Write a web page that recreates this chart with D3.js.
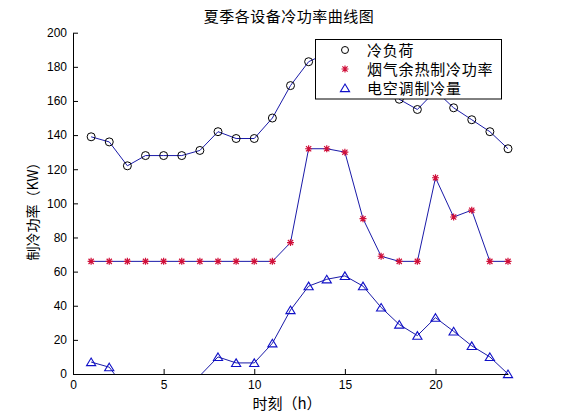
<!DOCTYPE html>
<html>
<head>
<meta charset="utf-8">
<script src="https://cdn.jsdelivr.net/npm/d3@7"></script>
<style>
  body { margin: 0; background: #fff; }
  text { font-family: "Liberation Sans", Arial, sans-serif; }
  .cjk { font-family: "Noto Sans CJK SC", sans-serif; }
</style>
</head>
<body>
<div id="chart"></div>
<script>
'use strict'

// ---- data ----
var hours = [1, 2, 3, 4, 5, 6, 7, 8, 9, 10, 11, 12, 13, 14, 15, 16, 17, 18, 19, 20, 21, 22, 23, 24]
var coolingLoad = [139, 136, 122, 128, 128, 128, 131, 142, 138, 138, 150, 169, 183, 188, 192, 186, 172, 161, 155, 166, 156, 149, 142, 132]
var fluePower = [66, 66, 66, 66, 66, 66, 66, 66, 66, 66, 66, 77, 132, 132, 130, 91, 69, 66, 66, 115, 92, 96, 66, 66]
var acPower = [7, 4, -10, -4, -4, -4, -1, 10, 6.5, 6.5, 18, 37.5, 51.5, 55.5, 57.5, 51.5, 39, 29, 22.5, 33, 25, 16.5, 10, 0]
var xTicks = [0, 5, 10, 15, 20]
var yTicks = [0, 20, 40, 60, 80, 100, 120, 140, 160, 180, 200]
var seriesNames = ['冷负荷', '烟气余热制冷功率', '电空调制冷量']

var width = 561
var height = 420
var lineColor = '#1a1aa8'

var x = d3.scaleLinear().domain([0, 24]).range([73, 508])
var y = d3.scaleLinear().domain([0, 200]).range([374, 32.7])

var svg = d3.select('#chart').append('svg')
  .attr('width', width)
  .attr('height', height)

svg.append('clipPath').attr('id', 'plotClip')
  .append('rect')
  .attr('x', x(0)).attr('y', y(200))
  .attr('width', x(24) - x(0)).attr('height', y(0) - y(200))

// markers
var circle = g => g.append('circle').attr('r', 4).attr('fill', 'none').attr('stroke', '#000')
var star = g => g.append('path')
  .attr('d', 'M-3.5,0H3.5M0,-3.5V3.5M-2.6,-2.6L2.6,2.6M-2.6,2.6L2.6,-2.6')
  .attr('stroke', '#d0103a').attr('stroke-width', 1.2)
var triangle = g => g.append('path')
  .attr('d', 'M0,-4L4.6,3.6L-4.6,3.6Z')
  .attr('fill', 'none').attr('stroke', '#1010c8').attr('stroke-width', 1.1)

var series = [
  { name: seriesNames[0], values: coolingLoad, marker: circle },
  { name: seriesNames[1], values: fluePower, marker: star },
  { name: seriesNames[2], values: acPower, marker: triangle }
]

var line = d3.line()
  .x((d, i) => x(hours[i]))
  .y(d => y(d))

svg.append('g')
  .attr('clip-path', 'url(#plotClip)')
  .selectAll('path')
  .data(series)
  .join('path')
  .attr('d', s => line(s.values))
  .attr('fill', 'none')
  .attr('stroke', lineColor)
  .attr('stroke-width', 1)

series.forEach(s => {
  svg.append('g')
    .selectAll('g')
    .data(s.values.map((v, i) => [hours[i], v]).filter(d => d[1] >= 0 && d[1] <= 200))
    .join('g')
    .attr('transform', d => 'translate(' + x(d[0]) + ',' + y(d[1]) + ')')
    .each(function () { s.marker(d3.select(this)) })
})

// axes (MATLAB style: inward ticks, left and bottom only)
var xAxis = svg.append('g')
  .attr('transform', 'translate(0,' + y(0) + ')')
  .call(d3.axisBottom(x).tickValues(xTicks).tickSizeInner(-5).tickSizeOuter(0).tickPadding(6))
var yAxis = svg.append('g')
  .attr('transform', 'translate(' + x(0) + ',0)')
  .call(d3.axisLeft(y).tickValues(yTicks).tickSizeInner(-5).tickSizeOuter(0).tickPadding(6))

;[xAxis, yAxis].forEach(a => {
  a.select('.domain').attr('stroke', '#000')
  a.selectAll('.tick line').attr('stroke', '#000')
  a.selectAll('.tick text').attr('font-size', 12).attr('font-family', '"Liberation Sans", Arial, sans-serif').attr('fill', '#000')
})

// titles
svg.append('text').attr('class', 'cjk')
  .attr('x', 289).attr('y', 22)
  .attr('text-anchor', 'middle')
  .attr('font-size', 15)
  .attr('letter-spacing', 0.5)
  .text('夏季各设备冷功率曲线图')

svg.append('text').attr('class', 'cjk')
  .attr('x', 287).attr('y', 409)
  .attr('text-anchor', 'middle')
  .attr('font-size', 15)
  .text('时刻（h）')

svg.append('text').attr('class', 'cjk')
  .attr('transform', 'translate(38,208) rotate(-90)')
  .attr('text-anchor', 'middle')
  .attr('font-size', 14)
  .text('制冷功率（KW）')

// legend
var legend = svg.append('g')
legend.append('rect')
  .attr('x', 315.5).attr('y', 39.5)
  .attr('width', 186).attr('height', 59.5)
  .attr('fill', '#fff').attr('stroke', '#000')

var rowY = d3.scalePoint().domain(seriesNames).range([50, 88])

var rows = legend.selectAll('g.row')
  .data(series)
  .join('g')
  .attr('class', 'row')
  .attr('transform', s => 'translate(345,' + rowY(s.name) + ')')

rows.each(function (s) { s.marker(d3.select(this)) })
rows.select('circle').attr('r', 3.5)

rows.append('text').attr('class', 'cjk')
  .attr('x', 22).attr('y', 5.5)
  .attr('font-size', 15)
  .attr('letter-spacing', 0.8)
  .text(s => s.name)
</script>
</body>
</html>
